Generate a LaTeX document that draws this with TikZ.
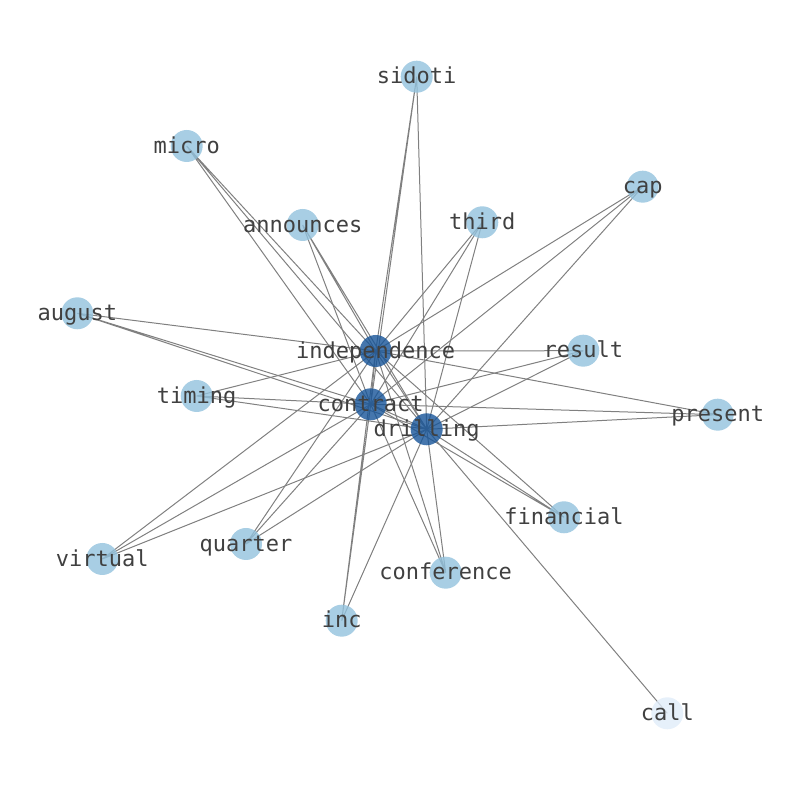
\documentclass[tikz,border=0pt]{standalone}
\usepackage{fontspec}
\setmonofont{DejaVu Sans Mono}
\usepackage{xcolor}
\usepackage{tikz}
\definecolor{hubblue}{RGB}{22,84,152}
\definecolor{leafblue}{RGB}{146,194,221}
\definecolor{paleblue}{RGB}{224,236,249}
\definecolor{labelgray}{RGB}{64,64,64}
\tikzstyle{word} = [circle, minimum size=16pt, inner sep=0pt, fill opacity=0.8, label={[text=labelgray, text opacity=1, inner sep=0pt, yshift=-0.5pt]center:\vphantom{lp}#1}]
\tikzstyle{hub} = [word=#1, fill=hubblue]
\tikzstyle{leaf} = [word=#1, fill=leafblue]
\tikzstyle{pale} = [word=#1, fill=paleblue]
\tikzstyle{edge} = [draw=gray, line width=0.5pt]

\begin{document}
\begin{tikzpicture}[x=0.5pt, y=-0.5pt, font=\ttfamily\fontsize{11}{13}\selectfont]
    \useasboundingbox (0,0) rectangle (794,790);
    % Positions
    \coordinate (independence) at (375.7,351);
    \coordinate (contract) at (370.7,404.3);
    \coordinate (drilling) at (426.7,429.3);
    \coordinate (sidoti) at (416.7,76.7);
    \coordinate (micro) at (186.7,146);
    \coordinate (announces) at (302.7,225);
    \coordinate (third) at (482.3,222.3);
    \coordinate (cap) at (642.7,186.7);
    \coordinate (august) at (77.3,313.3);
    \coordinate (timing) at (196.7,396);
    \coordinate (result) at (583.3,350.7);
    \coordinate (present) at (717.7,414.7);
    \coordinate (virtual) at (102.3,559);
    \coordinate (quarter) at (246,544);
    \coordinate (inc) at (341.7,620.7);
    \coordinate (conference) at (445.7,572.7);
    \coordinate (financial) at (564,517.3);
    \coordinate (call) at (667.3,713.3);

    % Edges
    \draw [edge] (independence) -- (contract) -- (drilling) -- (independence);
    \draw [edge] (sidoti) -- (independence) (sidoti) -- (contract) (sidoti) -- (drilling);
    \draw [edge] (micro) -- (independence) (micro) -- (contract) (micro) -- (drilling);
    \draw [edge] (announces) -- (independence) (announces) -- (contract) (announces) -- (drilling);
    \draw [edge] (third) -- (independence) (third) -- (contract) (third) -- (drilling);
    \draw [edge] (cap) -- (independence) (cap) -- (contract) (cap) -- (drilling);
    \draw [edge] (august) -- (independence) (august) -- (contract) (august) -- (drilling);
    \draw [edge] (timing) -- (independence) (timing) -- (contract) (timing) -- (drilling);
    \draw [edge] (result) -- (independence) (result) -- (contract) (result) -- (drilling);
    \draw [edge] (present) -- (independence) (present) -- (contract) (present) -- (drilling);
    \draw [edge] (virtual) -- (independence) (virtual) -- (contract) (virtual) -- (drilling);
    \draw [edge] (quarter) -- (independence) (quarter) -- (contract) (quarter) -- (drilling);
    \draw [edge] (inc) -- (independence) (inc) -- (contract) (inc) -- (drilling);
    \draw [edge] (conference) -- (independence) (conference) -- (contract) (conference) -- (drilling);
    \draw [edge] (financial) -- (independence) (financial) -- (contract) (financial) -- (drilling);
    \draw [edge] (call) -- (drilling);

    % Circles and words
    \node (n-independence) [hub=independence] at (independence) {};
    \node (n-contract) [hub=contract] at (contract) {};
    \node (n-drilling) [hub=drilling] at (drilling) {};
    \node (n-sidoti) [leaf=sidoti] at (sidoti) {};
    \node (n-micro) [leaf=micro] at (micro) {};
    \node (n-announces) [leaf=announces] at (announces) {};
    \node (n-third) [leaf=third] at (third) {};
    \node (n-cap) [leaf=cap] at (cap) {};
    \node (n-august) [leaf=august] at (august) {};
    \node (n-timing) [leaf=timing] at (timing) {};
    \node (n-result) [leaf=result] at (result) {};
    \node (n-present) [leaf=present] at (present) {};
    \node (n-virtual) [leaf=virtual] at (virtual) {};
    \node (n-quarter) [leaf=quarter] at (quarter) {};
    \node (n-inc) [leaf=inc] at (inc) {};
    \node (n-conference) [leaf=conference] at (conference) {};
    \node (n-financial) [leaf=financial] at (financial) {};
    \node (n-call) [pale=call] at (call) {};
\end{tikzpicture}
\end{document}
